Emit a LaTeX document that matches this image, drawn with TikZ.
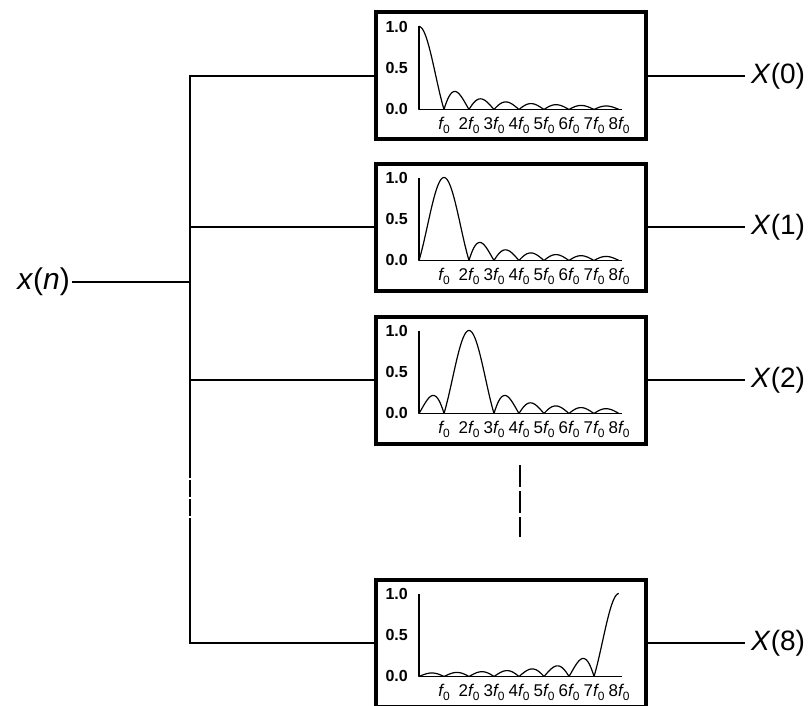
\documentclass[tikz,border=0pt]{standalone}
\usepackage{fontspec}
\setmainfont{Liberation Sans}
\usetikzlibrary{positioning}

\newcommand\fzero[1]{#1{\itshape f}\raisebox{-.4ex}{\fontsize{12}{12}\selectfont 0}}

\begin{document}
\begin{tikzpicture}[
  x=1pt,y=-1pt,
  filt/.style={draw,line width=4pt,minimum width=270pt,minimum height=127pt,outer sep=0pt,inner sep=0pt},
  wire/.style={line width=1.6pt},
  sig/.style={font=\fontsize{28}{28}\selectfont,inner sep=6pt},
  axnum/.style={font=\fontsize{16}{16}\selectfont\bfseries,anchor=east,inner sep=0pt},
  flbl/.style={font=\fontsize{17}{17}\selectfont,anchor=base,inner sep=0pt},
  curve/.style={line width=1.2pt,line join=round}
]
  \useasboundingbox (0,0) rectangle (811,706);

  % filter bank
  \node[filt] (box0) at (511,76) {};
  \node[filt,below=24pt of box0] (box1) {};
  \node[filt,below=26pt of box1] (box2) {};
  \node[filt,below=136pt of box2] (box8) {};

  % responses
  \foreach \k/\name in {0/box0,1/box1,2/box2,8/box8} {
    \begin{scope}[shift={(\name.north west)}]
      \draw[curve] (43,14) -- (43,97) -- (246,97);
      \node[axnum] at (32,14) {1.0};
      \node[axnum] at (32,55) {0.5};
      \node[axnum] at (32,96) {0.0};
      \foreach \j in {1,...,8}
        \node[flbl] at (43+25*\j,117) {\fzero{\ifnum\j>1 \j\fi}};
      \draw[curve] plot[domain=0.005:7.995,samples=800]
        ({43+25*\x},{97-83*abs(sin(180*(\x-\k))/(pi*(\x-\k)))});
    \end{scope}
  }

  % input and bus
  \node[sig,anchor=east,inner sep=2pt] (xn) at (72,282) {\fontsize{30}{30}\selectfont\textit{x}(\textit{n})};
  \coordinate (bus) at (190,0);
  \coordinate (gaptop) at (190,461);
  \coordinate (gapbot) at (190,520);
  \draw[wire] (xn.east) -- (xn.east -| bus);
  \draw[wire] (box0.west) -- (box0.west -| bus) -- (gaptop);
  \draw[wire,dash pattern=on 17pt off 2pt] (gaptop) -- (gapbot);
  \draw[wire] (gapbot) -- (box8.west -| bus) -- (box8.west);
  \draw[wire] (box1.west) -- (box1.west -| bus);
  \draw[wire] (box2.west) -- (box2.west -| bus);

  % outputs
  \foreach \k in {0,1,2,8} {
    \node[sig,anchor=west,right=99pt of box\k] (X\k) {\textit{X}(\k)};
    \draw[wire] (box\k.east) -- (X\k.west);
  }

  % more filters
  \draw[wire,dash pattern=on 22pt off 4pt] (520,465) -- (520,537);
\end{tikzpicture}
\end{document}
